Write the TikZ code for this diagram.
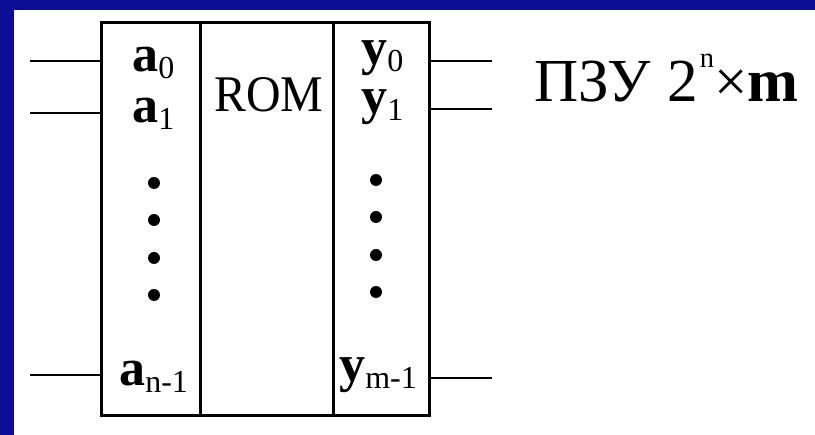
\documentclass[tikz,border=0pt]{standalone}
\usepackage{fontspec}
\usepackage{graphicx}
\setmainfont{Liberation Serif}
\definecolor{slideblue}{RGB}{12,14,150}
\newcommand{\pinsub}[1]{\raisebox{-7pt}{\mdseries\fontsize{32}{32}\selectfont #1}}

\begin{document}
\begin{tikzpicture}[x=1pt, y=-1pt, line width=2.6pt,
  column/.style={draw, rectangle, line width=2.6pt, inner sep=0pt, minimum height=393pt, anchor=north west},
  pinlbl/.style={anchor=base west, inner sep=0pt, font=\fontsize{52}{52}\selectfont\bfseries}]
% Fondo
\fill[slideblue] (0,0) rectangle (815,435);
\fill[white] (14,10) rectangle (815,435);
\useasboundingbox (0,0) rectangle (815,435);

% Blocco ROM: tre colonne
\node[column, minimum width=99pt] (addr) at (100,21) {};
\node[column, minimum width=133pt] (core) at (199,21) {};
\node[column, minimum width=96pt] (outp) at (332,21) {};
\node[anchor=base west, inner sep=0pt, font=\fontsize{50}{50}\selectfont] (rom) at (213,112) {\resizebox{109pt}{34pt}{ROM}};

% Ingressi
\coordinate (inA) at (30,61);
\coordinate (inB) at (30,113);
\coordinate (inC) at (30,375);
\draw (inA) -- (inA -| addr.west);
\draw (inB) -- (inB -| addr.west);
\draw (inC) -- (inC -| addr.west);

% Uscite
\coordinate (outA) at (492,61);
\coordinate (outB) at (492,109);
\coordinate (outC) at (492,378);
\draw (outA -| outp.east) -- (outA);
\draw (outB -| outp.east) -- (outB);
\draw (outC -| outp.east) -- (outC);

% Etichette ingressi
\node[pinlbl] (a0) at (131,72) {a\pinsub{0}};
\node[pinlbl] (a1) at (131,123) {a\pinsub{1}};
\node[pinlbl] (an) at (118,386) {a\pinsub{n-1}};

% Etichette uscite
\node[pinlbl] (y0) at (360,65) {y\pinsub{0}};
\node[pinlbl] (y1) at (360,114) {y\pinsub{1}};
\node[pinlbl] (ym) at (338,382) {y\pinsub{m-1}};

% Puntini
\foreach \yy in {183,220,258,295} \fill (154,\yy) circle (6pt);
\foreach \yy in {180,217,255,292} \fill (376,\yy) circle (6pt);

% Titolo
\node[anchor=base west, inner sep=0pt, font=\fontsize{60}{60}\selectfont] (title) at (533,102)
  {\resizebox{264pt}{!}{ПЗУ\hspace{16pt}2\kern2pt\raisebox{34pt}{\fontsize{28}{28}\selectfont n}{\fontsize{58}{58}\selectfont ×}\textbf{m}}};
\end{tikzpicture}
\end{document}
